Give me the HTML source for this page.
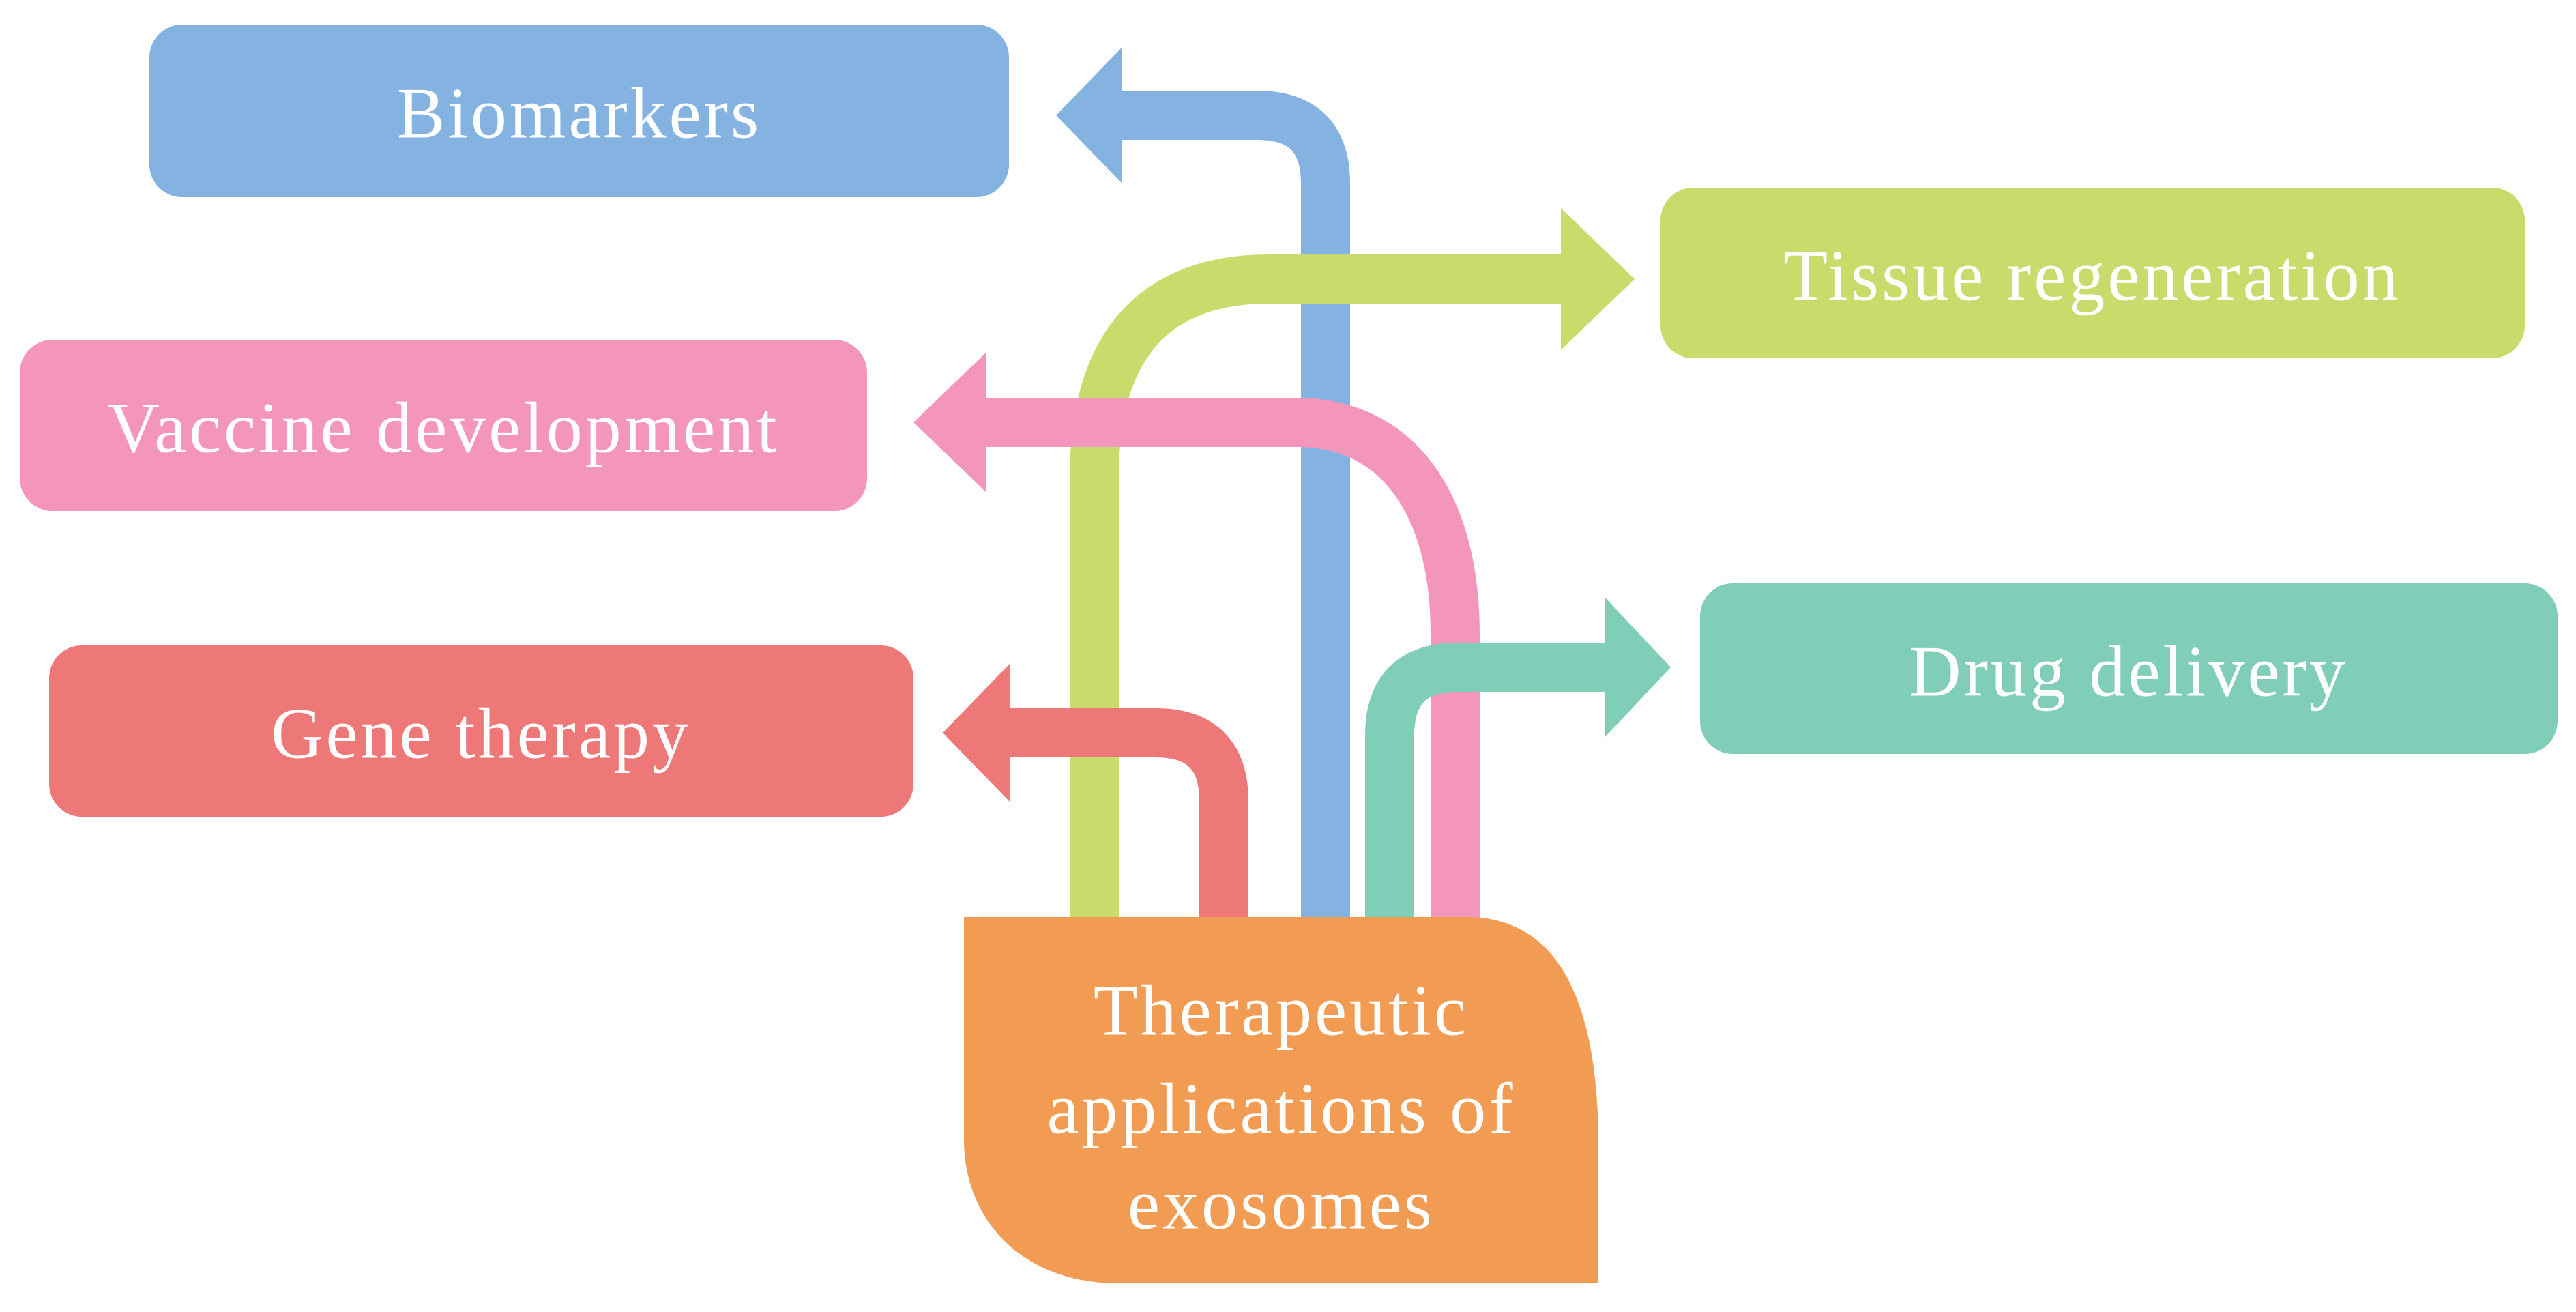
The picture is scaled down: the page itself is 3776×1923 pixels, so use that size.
<!DOCTYPE html>
<html><head><meta charset="utf-8"><style>
html,body{margin:0;padding:0;background:#fff}
svg{display:block}
text{font-family:"Liberation Serif",serif;fill:#fff;font-size:106px;text-anchor:middle;dominant-baseline:central;letter-spacing:4px}
</style></head><body>
<svg width="3776" height="1923" viewBox="0 0 3776 1923" xmlns="http://www.w3.org/2000/svg">
<rect x="219" y="36" width="1260" height="253" rx="48" fill="#84b3e2"/>
<rect x="2434" y="275" width="1267" height="250" rx="48" fill="#c8dc6c"/>
<rect x="29" y="498" width="1242" height="251" rx="48" fill="#f496bb"/>
<rect x="72" y="946" width="1267" height="251" rx="48" fill="#ee7777"/>
<rect x="2492" y="855" width="1257" height="250" rx="48" fill="#80cdb8"/>
<text x="849" y="166">Biomarkers</text>
<text x="3067" y="404">Tissue regeneration</text>
<text x="650" y="627">Vaccine development</text>
<text x="705" y="1075">Gene therapy</text>
<text x="3120" y="984">Drug delivery</text>
<g fill="none" stroke-width="72">
<path d="M1943 1350 V269 Q1943 169 1843 169 H1640" stroke="#84b3e2"/>
<path d="M1604 1350 V700 C1604 520 1680 409 1860 409 H2292" stroke="#c8dc6c"/>
<path d="M2133 1350 V930 C2133 740 2050 619 1900 619 H1440" stroke="#f496bb"/>
<path d="M1794 1350 V1174 Q1794 1074 1694 1074 H1476" stroke="#ee7777"/>
<path d="M2037 1350 V1078 Q2037 978 2137 978 H2358" stroke="#80cdb8"/>
</g>
<polygon points="1645,69 1548,169 1645,269" fill="#84b3e2"/>
<polygon points="2288,305 2396,409 2288,513" fill="#c8dc6c"/>
<polygon points="1445,517 1339,619 1445,721" fill="#f496bb"/>
<polygon points="1481,972 1382,1074 1481,1176" fill="#ee7777"/>
<polygon points="2353,876 2449,978 2353,1080" fill="#80cdb8"/>
<path d="M1413 1344 H2150 C2280 1344 2343 1460 2343 1680 V1881 H1640 C1500 1881 1413 1790 1413 1670 Z" fill="#f29b52"/>
<text x="1878" y="1481">Therapeutic</text>
<text x="1878" y="1625">applications of</text>
<text x="1878" y="1765">exosomes</text>
</svg>
</body></html>
